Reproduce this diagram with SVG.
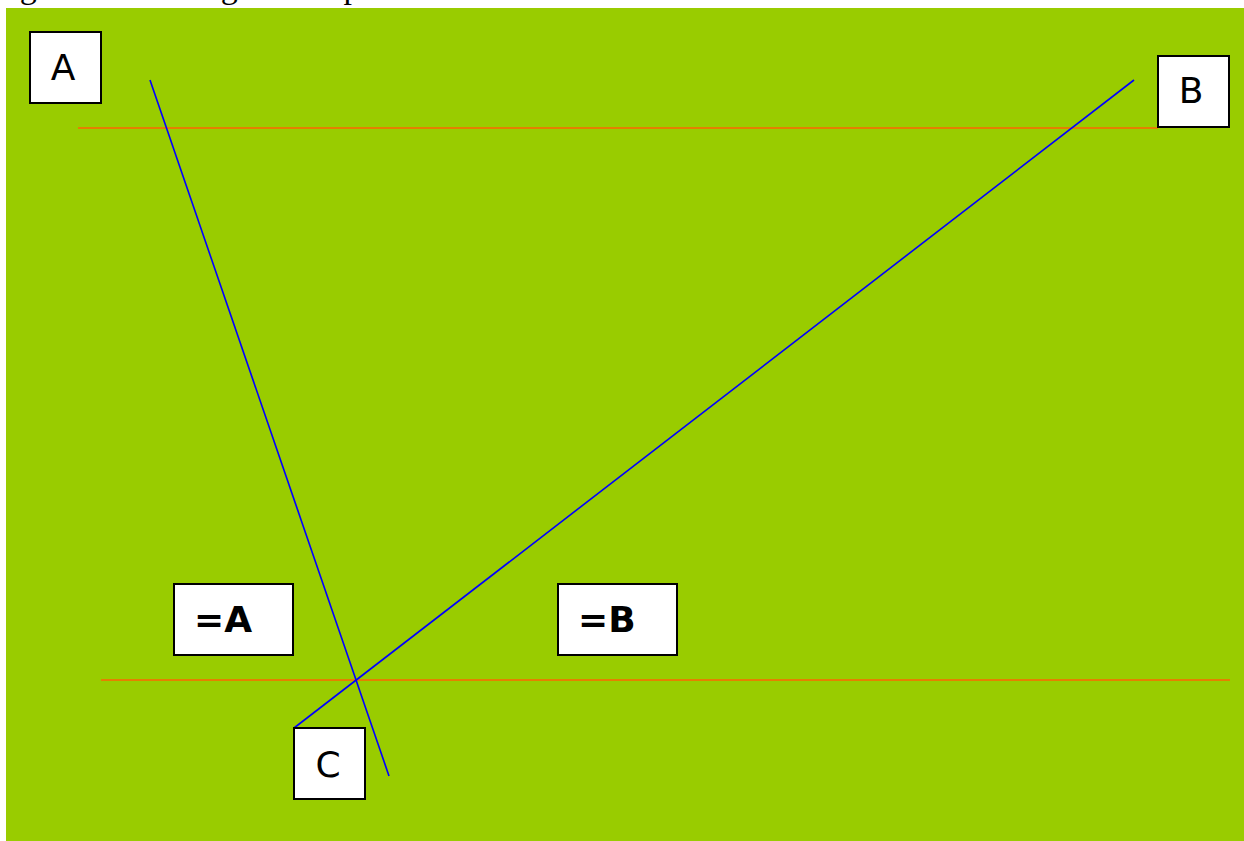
<svg xmlns="http://www.w3.org/2000/svg" width="1244" height="841" viewBox="0 0 1244 841">
<style>
.box{fill:#ffffff;stroke:#000000;stroke-width:2}
.lbl{font-family:"DejaVu Sans",Verdana,sans-serif;font-size:36px;fill:#000000}
.bold{font-weight:bold}
.blue{stroke:#0000ff;stroke-width:1.6;fill:none}
.orange{stroke:#ff6600;stroke-width:1.6;fill:none}
</style>
<rect x="0" y="0" width="1244" height="841" fill="#ffffff"/>
<text x="-18" y="-2" font-family="Liberation Serif,Times New Roman,serif" font-size="34" fill="#000000">Logical decorating with aspect</text>
<rect x="6" y="8" width="1238" height="833" fill="#99cc00"/>
<g id="connectors">
<line class="orange" x1="78" y1="128" x2="1158" y2="128"/>
<line class="orange" x1="101" y1="680" x2="1230" y2="680"/>
<line class="blue" x1="150" y1="80" x2="389" y2="776"/>
<line class="blue" x1="294" y1="728" x2="1134" y2="80"/>
</g>
<g id="nodeA">
<rect class="box" x="30" y="32" width="71" height="71"/>
<text class="lbl" x="63" y="80" text-anchor="middle">A</text>
</g>
<g id="nodeB">
<rect class="box" x="1158" y="56" width="71" height="71"/>
<text class="lbl" x="1191" y="103" text-anchor="middle">B</text>
</g>
<g id="nodeC">
<rect class="box" x="294" y="728" width="71" height="71"/>
<text class="lbl" x="328" y="777" text-anchor="middle">C</text>
</g>
<g id="nodeEqA">
<rect class="box" x="174" y="584" width="119" height="71"/>
<text class="lbl bold" x="194" y="632">=A</text>
</g>
<g id="nodeEqB">
<rect class="box" x="558" y="584" width="119" height="71"/>
<text class="lbl bold" x="578" y="632">=B</text>
</g>
</svg>
